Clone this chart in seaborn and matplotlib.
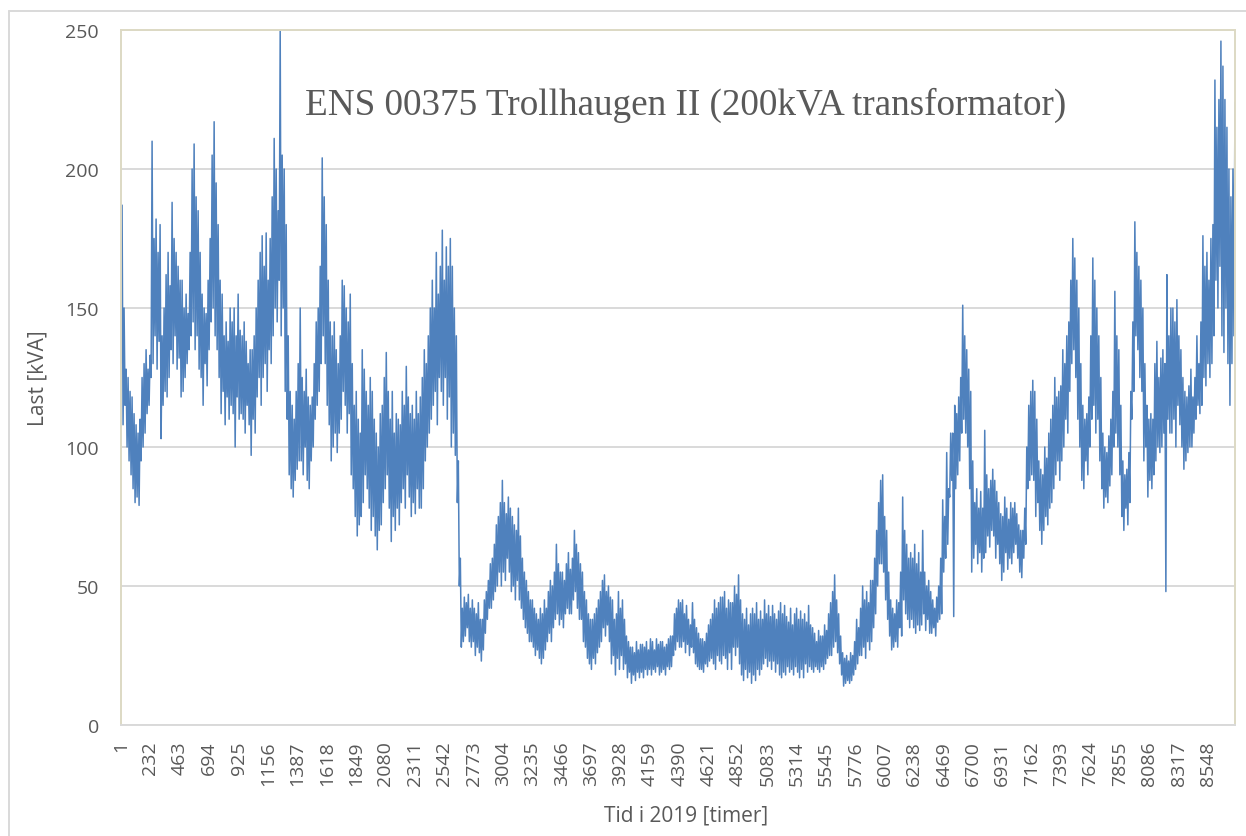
import numpy as np
import pandas as pd
import matplotlib
matplotlib.use("Agg")
import matplotlib.pyplot as plt
from matplotlib.lines import Line2D
import seaborn as sns

load_kva = [
    130, 187, 108, 150, 115, 128, 100, 125, 95, 120,
    90, 118, 85, 112, 80, 108, 82, 105, 79, 110,
    95, 125, 100, 130, 105, 135, 112, 128, 115, 133,
    125, 210, 130, 175, 140, 182, 128, 170, 138, 180,
    103, 140, 115, 150, 120, 162, 118, 170, 125, 158,
    135, 188, 130, 175, 140, 170, 128, 165, 132, 160,
    118, 160, 120, 150, 125, 155, 130, 148, 135, 170,
    140, 200, 145, 209, 135, 190, 140, 185, 128, 170,
    125, 155, 115, 150, 130, 148, 122, 160, 135, 175,
    145, 205, 150, 217, 140, 195, 135, 180, 125, 160,
    112, 155, 120, 140, 108, 145, 118, 138, 110, 150,
    115, 145, 112, 150, 100, 140, 118, 155, 110, 142,
    112, 140, 110, 145, 105, 138, 115, 130, 108, 135,
    97, 135, 110, 140, 105, 150, 118, 160, 125, 170,
    115, 176, 125, 165, 130, 177, 120, 160, 135, 175,
    130, 190, 140, 211, 150, 200, 145, 185, 160, 250,
    140, 205, 150, 200, 120, 180, 110, 140, 90, 120,
    85, 115, 82, 110, 88, 120, 92, 130, 95, 150,
    95, 125, 90, 120, 100, 128, 88, 118, 85, 115,
    95, 118, 100, 130, 110, 145, 115, 150, 120, 165,
    130, 204, 140, 190, 130, 180, 115, 160, 108, 145,
    95, 140, 100, 145, 105, 135, 98, 130, 105, 140,
    110, 160, 120, 158, 115, 150, 105, 145, 112, 155,
    90, 130, 85, 115, 75, 120, 68, 110, 72, 105,
    75, 135, 80, 128, 90, 120, 85, 115, 78, 125,
    70, 120, 75, 110, 68, 105, 63, 100, 70, 112,
    72, 115, 80, 125, 85, 134, 90, 120, 78, 110,
    66, 120, 75, 105, 70, 112, 78, 110, 72, 108,
    80, 120, 85, 115, 78, 129, 90, 118, 82, 112,
    75, 115, 80, 110, 76, 120, 85, 112, 78, 118,
    78, 125, 85, 135, 95, 130, 100, 140, 105, 150,
    110, 160, 115, 150, 120, 170, 108, 155, 125, 165,
    120, 178, 115, 160, 125, 172, 110, 165, 118, 175,
    100, 165, 105, 150, 97, 140, 80, 95, 50, 60,
    28, 42, 30, 46, 32, 44, 35, 47, 30, 42,
    28, 45, 30, 42, 25, 40, 28, 44, 26, 38,
    23, 38, 27, 45, 33, 48, 38, 52, 42, 58,
    42, 60, 45, 65, 48, 72, 50, 75, 55, 80,
    50, 88, 55, 80, 52, 76, 60, 82, 55, 78,
    48, 75, 50, 72, 45, 70, 52, 78, 45, 68,
    42, 60, 38, 55, 35, 52, 33, 48, 30, 45,
    30, 45, 28, 42, 25, 40, 27, 38, 24, 42,
    22, 40, 24, 45, 27, 42, 30, 48, 33, 52,
    30, 50, 35, 55, 38, 65, 40, 58, 36, 55,
    38, 55, 35, 52, 40, 58, 42, 62, 40, 56,
    40, 60, 45, 70, 48, 65, 42, 62, 38, 58,
    38, 55, 30, 48, 28, 45, 24, 40, 22, 38,
    20, 38, 24, 40, 22, 42, 26, 45, 28, 48,
    30, 52, 35, 54, 32, 48, 36, 50, 30, 46,
    22, 45, 25, 38, 18, 40, 24, 48, 20, 42,
    25, 45, 20, 38, 22, 32, 17, 30, 19, 28,
    15, 28, 18, 26, 16, 30, 19, 27, 17, 29,
    19, 29, 17, 28, 20, 30, 18, 27, 20, 31,
    18, 30, 20, 27, 19, 31, 21, 29, 18, 30,
    19, 30, 20, 28, 18, 29, 21, 31, 20, 32,
    21, 32, 25, 40, 27, 42, 30, 45, 28, 44,
    28, 45, 30, 40, 26, 43, 29, 38, 25, 36,
    28, 44, 26, 38, 22, 35, 21, 33, 20, 31,
    20, 31, 19, 30, 22, 33, 21, 36, 23, 38,
    24, 40, 22, 45, 20, 42, 25, 44, 23, 46,
    22, 46, 25, 48, 24, 42, 20, 45, 26, 44,
    20, 44, 28, 50, 25, 47, 28, 54, 22, 45,
    18, 40, 16, 38, 20, 42, 17, 36, 19, 40,
    15, 42, 18, 40, 16, 44, 20, 38, 18, 41,
    20, 38, 22, 45, 24, 40, 21, 43, 23, 39,
    20, 43, 23, 40, 19, 38, 22, 41, 18, 44,
    17, 40, 19, 43, 18, 39, 21, 37, 19, 42,
    20, 36, 18, 40, 21, 42, 19, 38, 17, 41,
    20, 38, 17, 40, 22, 37, 19, 43, 21, 36,
    20, 35, 19, 33, 21, 30, 20, 34, 19, 32,
    21, 32, 20, 36, 22, 34, 24, 40, 25, 44,
    25, 48, 28, 54, 30, 45, 26, 40, 22, 32,
    18, 26, 14, 24, 15, 25, 16, 23, 15, 26,
    16, 25, 18, 30, 20, 38, 22, 35, 25, 42,
    25, 50, 28, 45, 24, 48, 30, 44, 27, 52,
    30, 52, 35, 60, 40, 70, 50, 80, 58, 88,
    58, 90, 55, 75, 45, 70, 38, 55, 32, 45,
    27, 42, 28, 40, 30, 45, 28, 44, 35, 55,
    32, 82, 45, 70, 40, 65, 38, 60, 35, 62,
    38, 60, 35, 65, 33, 58, 36, 62, 34, 55,
    36, 70, 40, 55, 34, 50, 38, 52, 33, 48,
    33, 45, 35, 42, 32, 46, 37, 50, 38, 60,
    40, 81, 55, 75, 60, 98, 65, 85, 82, 105,
    88, 105, 39, 115, 85, 112, 90, 118, 95, 125,
    105, 151, 110, 140, 105, 135, 100, 128, 85, 120,
    55, 95, 60, 80, 65, 85, 58, 78, 62, 84,
    55, 78, 60, 106, 62, 90, 68, 85, 64, 88,
    70, 92, 68, 88, 60, 84, 65, 80, 58, 76,
    52, 75, 55, 82, 62, 78, 56, 74, 60, 80,
    58, 78, 62, 80, 65, 76, 60, 72, 55, 70,
    53, 70, 60, 78, 65, 100, 85, 115, 88, 120,
    90, 124, 88, 120, 75, 110, 80, 95, 70, 92,
    65, 90, 70, 100, 75, 96, 72, 105, 78, 110,
    80, 115, 85, 125, 90, 118, 95, 120, 88, 122,
    95, 135, 100, 130, 110, 140, 105, 145, 120, 160,
    130, 175, 135, 168, 125, 160, 110, 150, 100, 130,
    88, 115, 85, 110, 95, 112, 90, 118, 100, 140,
    110, 168, 115, 160, 105, 150, 110, 140, 95, 125,
    85, 105, 78, 100, 82, 98, 80, 104, 86, 110,
    90, 120, 100, 156, 105, 140, 100, 135, 90, 115,
    75, 95, 70, 90, 78, 92, 72, 98, 80, 120,
    110, 145, 120, 181, 140, 170, 135, 165, 125, 160,
    120, 150, 95, 130, 100, 115, 82, 110, 88, 112,
    85, 110, 90, 130, 95, 138, 100, 125, 98, 132,
    100, 135, 105, 130, 48, 162, 110, 140, 105, 150,
    105, 150, 110, 145, 100, 153, 115, 140, 108, 135,
    100, 125, 92, 120, 95, 118, 98, 122, 100, 128,
    100, 118, 105, 125, 110, 140, 115, 130, 112, 145,
    115, 176, 125, 165, 122, 170, 130, 160, 125, 175,
    130, 180, 140, 232, 160, 215, 150, 225, 165, 246,
    140, 237, 134, 225, 150, 215, 130, 200, 115, 190,
    130, 200, 140, 224,
]
n_hours = 8760
hours = np.linspace(1, n_hours, len(load_kva))
tick_hours = list(range(1, n_hours, 231))
y_ticks = [0, 50, 100, 150, 200, 250]

title_text = "ENS 00375 Trollhaugen II (200kVA transformator)"
x_label = "Tid i 2019 [timer]"
y_label = "Last [kVA]"

df = pd.DataFrame({"time": hours, "load": load_kva})

sns.set_theme(style="white")
plt.rcParams["font.family"] = ["Open Sans", "DejaVu Sans"]

W, H = 1246, 837
fig = plt.figure(figsize=(W / 100, H / 100), dpi=100)
ax = fig.add_axes([121 / W, 1 - 726 / H, (1235 - 121) / W, (726 - 31) / H])

sns.lineplot(data=df, x="time", y="load", ax=ax, color="#4F81BD",
             linewidth=1.1, estimator=None, sort=False)

ax.set_xlim(0.5, n_hours + 0.5)
ax.set_ylim(0, 250)
ax.set_yticks(y_ticks)
ax.set_xticks(tick_hours)
ax.set_xticklabels([str(t) for t in tick_hours], rotation=90)
ax.tick_params(axis="both", length=0, labelsize=14, colors="#595959")
ax.tick_params(axis="y", pad=16)
ax.tick_params(axis="x", pad=11)
ax.yaxis.grid(True, color="#D9D9D9", linewidth=1.4)
ax.xaxis.grid(False)
ax.set_axisbelow(True)
for side in ["left", "top", "right"]:
    ax.spines[side].set_color("#DDD9C4")
    ax.spines[side].set_linewidth(1.4)
ax.spines["bottom"].set_color("#D9D9D9")
ax.spines["bottom"].set_linewidth(1.4)

ax.set_xlabel(x_label, fontsize=15, color="#595959")
ax.set_ylabel(y_label, fontsize=15, color="#595959")
ax.xaxis.set_label_coords((686 - 121) / (1235 - 121), -(816 - 726) / (726 - 31))
ax.yaxis.set_label_coords(-(121 - 38) / (1235 - 121), 0.5)
ax.xaxis.label.set_va("center")
ax.yaxis.label.set_va("center")

fig.text(686 / W, 1 - 105 / H, title_text, ha="center", va="center",
         fontsize=26.7, color="#595959", family=["Liberation Serif", "DejaVu Serif"])

# outer chart border
fig.add_artist(Line2D([9 / W, 9 / W], [0, 1 - 12 / H], transform=fig.transFigure,
                      color="#D9D9D9", linewidth=1.4))
fig.add_artist(Line2D([9 / W, 1], [1 - 12 / H, 1 - 12 / H], transform=fig.transFigure,
                      color="#D9D9D9", linewidth=1.4))

fig.savefig("out.png", dpi=100, facecolor="white")
